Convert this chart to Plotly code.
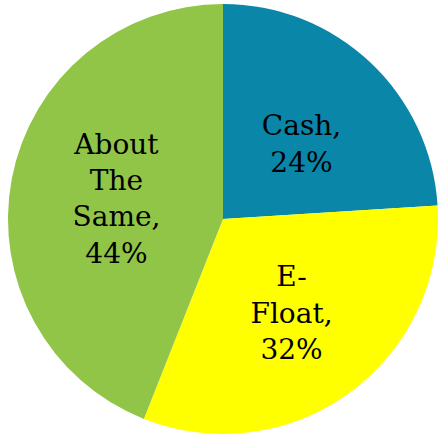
import plotly.graph_objects as go

labels = ["Cash", "E-Float", "About The Same"]
values = [24, 32, 44]
display_text = [" <br>Cash,&nbsp;&nbsp;<br>24%&nbsp;&nbsp;", "E-<br>Float,<br>32%", "About<br>The<br>Same,<br>44%"]
colors = ["#0a86a8", "#ffff00", "#91c548"]

fig = go.Figure(go.Pie(
    labels=labels,
    values=values,
    text=display_text,
    textinfo="text",
    textposition="inside",
    insidetextorientation="horizontal",
    sort=False,
    direction="clockwise",
    rotation=0,
    marker=dict(colors=colors, line=dict(width=0)),
    textfont=dict(family="DejaVu Serif", size=28, color="#000000"),
    domain=dict(x=[8/439, 438/439], y=[1/435, 431/435]),
    showlegend=False,
    hoverinfo="skip",
))

fig.update_layout(
    width=439, height=435,
    margin=dict(l=0, r=0, t=0, b=0),
    paper_bgcolor="white",
    plot_bgcolor="white",
    uniformtext=dict(minsize=28, mode="show"),
)

fig.write_html("out.html")
